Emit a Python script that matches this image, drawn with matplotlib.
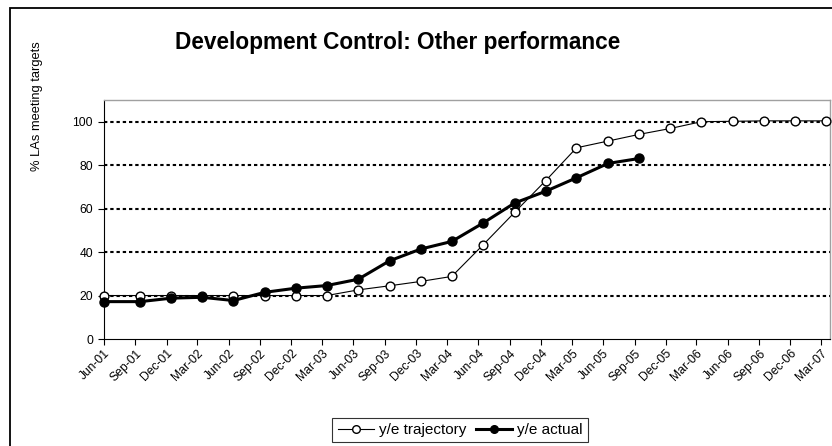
import matplotlib
matplotlib.use("Agg")
import matplotlib.pyplot as plt
import matplotlib.dates as mdates
from matplotlib.lines import Line2D
from matplotlib.patches import Rectangle
import pandas as pd

plt.rcParams['font.family'] = ['Liberation Sans', 'DejaVu Sans']

# ---- data ----
dates = ['2001-06-01', '2001-09-15', '2001-12-15', '2002-03-15', '2002-06-15',
         '2002-09-15', '2002-12-15', '2003-03-15', '2003-06-15', '2003-09-15',
         '2003-12-15', '2004-03-15', '2004-06-15', '2004-09-15', '2004-12-15',
         '2005-03-15', '2005-06-15', '2005-09-15', '2005-12-15', '2006-03-15',
         '2006-06-15', '2006-09-15', '2006-12-15', '2007-03-15']
trajectory = [20.0, 20.0, 20.0, 20.0, 20.0, 20.0, 20.0, 20.0, 22.6, 24.5,
              26.5, 28.8, 43.4, 58.3, 72.9, 88.0, 91.1, 94.2, 96.9, 100.0,
              100.2, 100.4, 100.4, 100.4]
actual = [17.2, 17.2, 18.8, 19.2, 17.7, 21.5, 23.4, 24.6, 27.5, 36.0,
          41.4, 44.9, 53.4, 62.6, 68.0, 74.2, 80.8, 83.1]
tick_dates = pd.date_range('2001-06-01', '2007-03-01', freq='3MS')
y_ticks = [0, 20, 40, 60, 80, 100]
title = 'Development Control: Other performance'
ylabel = '% LAs meeting targets'
series_names = ['y/e trajectory', 'y/e actual']

x_all = pd.to_datetime(dates)

W, H = 832, 446
fig = plt.figure(figsize=(W / 100, H / 100), dpi=100)
fig.patch.set_facecolor('white')

# chart-area border
fig.patches.append(Rectangle((10 / W, -0.05), 1.0, 1 - 8 / H + 0.05,
                             transform=fig.transFigure, fill=False,
                             edgecolor='black', linewidth=1.3))

ax = fig.add_axes([104 / W, 1 - 339 / H, (830 - 104) / W, (339 - 100) / H])

# gridlines
for v in y_ticks[1:]:
    ax.axhline(v, color='black', linewidth=1.5, linestyle=(0, (1.6, 1.4)),
               zorder=1)

ax.plot(x_all, trajectory, color='black', linewidth=0.8, marker='o',
        markersize=6.3, markerfacecolor='white', markeredgecolor='black',
        markeredgewidth=1.0, zorder=3, clip_on=False)
ax.plot(x_all[:len(actual)], actual, color='black', linewidth=2.2, marker='o',
        markersize=6.5, markerfacecolor='black', markeredgecolor='black',
        zorder=4, clip_on=False)

ax.set_xlim(pd.Timestamp('2001-06-01'), pd.Timestamp('2007-03-27'))
ax.set_ylim(0, 110)
ax.set_yticks(y_ticks)
ax.set_xticks(tick_dates)
ax.xaxis.set_major_formatter(mdates.DateFormatter('%b-%y'))
ax.tick_params(axis='both', direction='out', length=4, width=0.8,
               labelsize=8.7, colors='black')
ax.tick_params(axis='y', pad=4)
ax.tick_params(axis='x', pad=2)
plt.setp(ax.get_xticklabels(), rotation=45, ha='right', rotation_mode='anchor')

for s in ['top', 'right']:
    ax.spines[s].set_color('#a0a0a0')
    ax.spines[s].set_linewidth(1.0)
for s in ['left', 'bottom']:
    ax.spines[s].set_color('black')
    ax.spines[s].set_linewidth(0.8)

fig.text(398 / W, 1 - 42 / H, title, ha='center', va='center',
         fontsize=16.3, fontweight='bold')
fig.text(37 / W, 1 - 106 / H, ylabel, ha='center', va='center',
         rotation=90, fontsize=9.3)

handles = [
    Line2D([], [], color='black', linewidth=0.8, marker='o', markersize=5.5,
           markerfacecolor='white', markeredgecolor='black'),
    Line2D([], [], color='black', linewidth=2.2, marker='o', markersize=5.5,
           markerfacecolor='black', markeredgecolor='black'),
]
leg = fig.legend(handles, series_names, ncol=2, loc='center',
                 bbox_to_anchor=(460 / W, 1 - 430 / H), fontsize=11,
                 frameon=True, fancybox=False, edgecolor='black',
                 handlelength=2.4, handletextpad=0.3, columnspacing=0.6,
                 borderpad=0.35, borderaxespad=0)
leg.get_frame().set_linewidth(0.8)

fig.savefig('out.png', dpi=100, facecolor='white')
